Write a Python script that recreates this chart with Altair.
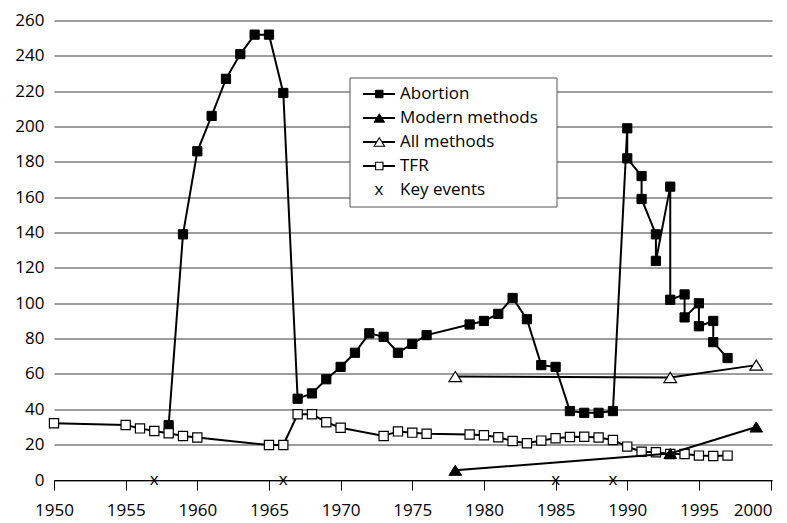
import altair as alt
import pandas as pd

FONT = "Open Sans"

# ---- data ----
abortion_years = [1958, 1959, 1960, 1961, 1962, 1963, 1964, 1965, 1966, 1967,
                  1968, 1969, 1970, 1971, 1972, 1973, 1974, 1975, 1976, 1979,
                  1980, 1981, 1982, 1983, 1984, 1985, 1986, 1987, 1988, 1989,
                  1990, 1990, 1991, 1991, 1992, 1992, 1993, 1993, 1994, 1994,
                  1995, 1995, 1996, 1996, 1997]
abortion_values = [31, 139, 186, 206, 227, 241, 252, 252, 219, 46,
                   49, 57, 64, 72, 83, 81, 72, 77, 82, 88,
                   90, 94, 103, 91, 65, 64, 39, 38, 38, 39,
                   199, 182, 172, 159, 139, 124, 166, 102, 105, 92,
                   100, 87, 90, 78, 69]

tfr_years = [1950, 1955, 1956, 1957, 1958, 1959, 1960, 1965, 1966, 1967,
             1968, 1969, 1970, 1973, 1974, 1975, 1976, 1979, 1980, 1981,
             1982, 1983, 1984, 1985, 1986, 1987, 1988, 1989, 1990, 1991,
             1992, 1993, 1994, 1995, 1996, 1997]
tfr_values = [32.1, 31.1, 29.2, 27.7, 26.4, 24.9, 24.0, 19.8, 19.8, 37.2,
              37.2, 32.7, 29.6, 24.9, 27.5, 26.8, 26.2, 25.7, 25.3, 24.2,
              22.1, 20.8, 22.3, 23.6, 24.3, 24.5, 24.0, 22.6, 18.9, 16.0,
              15.7, 14.7, 14.7, 13.8, 13.6, 13.8]

modern_years = [1978, 1993, 1999]
modern_values = [5.5, 15, 30]

all_years = [1978, 1993, 1999]
all_values = [58.5, 58, 65]

event_years = [1957, 1966, 1985, 1989]
event_values = [0, 0, 0, 0]

legend_labels = ["Abortion", "Modern methods", "All methods", "TFR", "Key events"]
x_ticks = list(range(1950, 2001, 5))
y_ticks = list(range(0, 261, 20))


def frame(years, values):
    return pd.DataFrame({"year": years, "value": values,
                         "order": list(range(len(years)))})


df_ab = frame(abortion_years, abortion_values)
df_tfr = frame(tfr_years, tfr_values)
df_mod = frame(modern_years, modern_values)
df_all = frame(all_years, all_values)
df_ev = frame(event_years, event_values)

TRI = "M0,-0.8L1,0.8L-1,0.8Z"

xs = alt.Scale(domain=[1950, 2000.1], nice=False, zero=False)
ys = alt.Scale(domain=[0, 260], nice=False)

X = alt.X("year:Q", scale=xs,
          axis=alt.Axis(values=x_ticks, format="d", title=None, grid=False,
                        tickSize=10, labelPadding=12, domainColor="black",
                        tickColor="black", domainWidth=1, tickWidth=1,
                        labelFontSize=17, labelFont=FONT, labelColor="black",
                        labelFlush=False, labelOverlap=False,
                        labelAlign=alt.ExprRef(expr="datum.value >= 2000 ? 'right' : 'center'"),
                        labelOffset=alt.ExprRef(expr="datum.value >= 2000 ? 1.5 : 0")))
Y = alt.Y("value:Q", scale=ys,
          axis=alt.Axis(values=y_ticks, title=None, grid=True, gridColor="#3a3a3a",
                        gridWidth=1, domain=False, ticks=False, tickSize=0,
                        labelPadding=10, labelFontSize=17, labelFont=FONT,
                        labelColor="black", labelOverlap=False))


def line(df):
    return alt.Chart(df).mark_line(color="black", strokeWidth=2).encode(
        x=X, y=Y, order="order:Q")


layers = []
# Abortion
layers.append(line(df_ab))
layers.append(alt.Chart(df_ab).mark_point(shape="square", filled=True, fill="black",
                                          stroke="black", strokeWidth=1, size=85,
                                          opacity=1).encode(x=X, y=Y))
# All methods
layers.append(line(df_all))
layers.append(alt.Chart(df_all).mark_point(shape=TRI, filled=True, fill="white",
                                           stroke="black", strokeWidth=1.2, size=160,
                                           opacity=1).encode(x=X, y=Y))
# TFR
layers.append(line(df_tfr))
layers.append(alt.Chart(df_tfr).mark_point(shape="square", filled=True, fill="white",
                                           stroke="black", strokeWidth=1.2, size=85,
                                           opacity=1).encode(x=X, y=Y))
# Modern methods
layers.append(line(df_mod))
layers.append(alt.Chart(df_mod).mark_point(shape=TRI, filled=True, fill="black",
                                           stroke="black", strokeWidth=1, size=160,
                                           opacity=1).encode(x=X, y=Y))
# Key events
layers.append(alt.Chart(df_ev).mark_text(text="x", fontSize=17, font=FONT,
                                         baseline="middle", align="center",
                                         color="black").encode(x=X, y=Y))

# ---- manual legend ----
box = pd.DataFrame({"label": ["legend"]})
layers.append(alt.Chart(box).mark_rect(fill="white", stroke="#555555", strokeWidth=1).encode(
    x=alt.value(296), x2=alt.value(503), y=alt.value(57.5), y2=alt.value(186.5)))

marker_style = [
    dict(shape="square", fill="black", stroke="black", strokeWidth=1, size=55),
    dict(shape=TRI, fill="black", stroke="black", strokeWidth=1, size=110),
    dict(shape=TRI, fill="white", stroke="black", strokeWidth=1.1, size=110),
    dict(shape="square", fill="white", stroke="black", strokeWidth=1.1, size=55),
]
for i, label in enumerate(legend_labels):
    yy = 73.5 + 24 * i
    row = pd.DataFrame({"label": [label]})
    if i < 4:
        layers.append(alt.Chart(row).mark_rule(color="black", strokeWidth=2).encode(
            x=alt.value(309), x2=alt.value(341), y=alt.value(yy)))
        layers.append(alt.Chart(row).mark_point(filled=True, opacity=1, **marker_style[i]).encode(
            x=alt.value(325.3), y=alt.value(yy)))
    else:
        layers.append(alt.Chart(row).mark_text(text="x", fontSize=17, font=FONT,
                                               baseline="middle", align="center",
                                               color="black").encode(
            x=alt.value(325), y=alt.value(yy)))
    layers.append(alt.Chart(row).mark_text(fontSize=17, font=FONT, baseline="middle",
                                           align="left", color="black").encode(
        x=alt.value(346), y=alt.value(yy), text="label:N"))

chart = alt.layer(*layers).properties(
    width=718, height=459.5,
    padding={"left": 46, "top": 12.5, "right": 7, "bottom": 44},
    autosize="none",
    background="white",
).configure_view(stroke=None)

chart.save("out.html", embed_options={"renderer": "svg", "actions": False})
